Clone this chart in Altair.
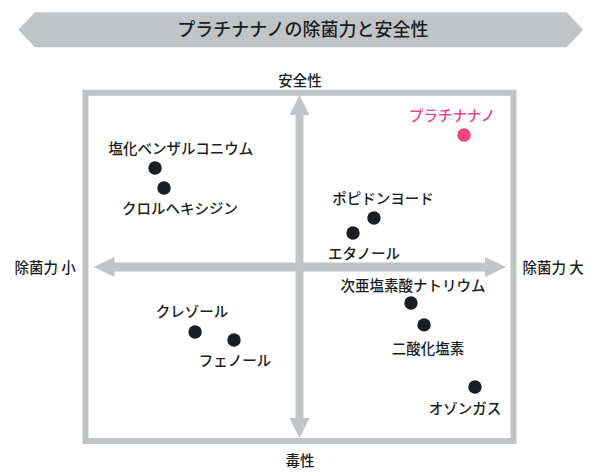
import altair as alt
import pandas as pd

# --- data (conceptual space: 除菌力 -10..10, 安全性 -10..10) ---
names = ["プラチナナノ", "塩化ベンザルコニウム", "クロルヘキシジン", "ポピドンヨード", "エタノール",
         "次亜塩素酸ナトリウム", "二酸化塩素", "クレゾール", "フェノール", "オゾンガス"]
efficacy = [7.69, -6.75, -6.33, 3.48, 2.50, 5.21, 5.82, -4.88, -3.06, 8.20]
safety = [7.58, 5.68, 4.53, 2.81, 1.95, -2.07, -3.33, -3.74, -4.20, -6.90]
label_x = [7.13, -5.54, -5.58, 3.90, 3.01, 5.30, 6.00, -5.02, -3.01, 7.73]
label_y = [8.72, 6.83, 3.38, 3.96, 0.80, -1.03, -4.65, -2.53, -5.34, -8.10]
highlight = [True, False, False, False, False, False, False, False, False, False]

title_text = "プラチナナノの除菌力と安全性"
axis_texts = ["安全性", "毒性", "除菌力 小", "除菌力 大"]

GRAY = "#c1c4c7"
DARK = "#1a1e23"
PINK = "#ea4580"
FONT = "Noto Sans CJK JP"

xs = alt.Scale(domain=[-13.621, 13.668], nice=False, zero=False)
ys = alt.Scale(domain=[-12.010, 14.871], nice=False, zero=False)

df = pd.DataFrame({
    "name": names, "x": efficacy, "y": safety, "lx": label_x, "ly": label_y,
    "color": [PINK if h else DARK for h in highlight],
})

def X(f="x"):
    return alt.X(f, type="quantitative", scale=xs, axis=None)

def Y(f="y"):
    return alt.Y(f, type="quantitative", scale=ys, axis=None)

# banner
banner_path = "M -282.5 0 L -265.8 -17.5 L 265.8 -17.5 L 282.5 0 L 265.8 17.5 L -265.8 17.5 Z"
banner = alt.Chart(pd.DataFrame({"x": [0.06], "y": [13.62]})).mark_point(
    shape=banner_path, size=4, filled=True, fill=GRAY, opacity=1, strokeWidth=0
).encode(x=X(), y=Y())
title = alt.Chart(pd.DataFrame({"x": [0.16], "y": [13.62], "t": [title_text]})).mark_text(
    font=FONT, fontSize=18, fontWeight=500, color=DARK, baseline="middle", align="center", dy=1.5
).encode(x=X(), y=Y(), text="t:N")

# box
box = alt.Chart(pd.DataFrame({"x": [-10], "x2": [10], "y": [-10], "y2": [10]})).mark_rect(
    fillOpacity=0, stroke=GRAY, strokeWidth=6
).encode(x=X(), x2="x2:Q", y=Y(), y2="y2:Q")

# arrow shafts
hshaft = alt.Chart(pd.DataFrame({"x": [-8.8], "x2": [8.8], "y": [0.0]})).mark_rule(
    color=GRAY, strokeWidth=9, strokeCap="butt"
).encode(x=X(), x2="x2:Q", y=Y())
vshaft = alt.Chart(pd.DataFrame({"x": [0.0], "y": [-8.8], "y2": [8.8]})).mark_rule(
    color=GRAY, strokeWidth=8, strokeCap="butt"
).encode(x=X(), y=Y(), y2="y2:Q")

heads = pd.DataFrame({
    "x": [-9.62, 9.65, 0.0, 0.0],
    "y": [0.0, 0.0, 9.87, -9.83],
    "shape": [
        "M 0 0 L 21 -10 L 21 10 Z",
        "M 0 0 L -21 -10 L -21 10 Z",
        "M 0 0 L 10 20 L -10 20 Z",
        "M 0 0 L 10 -20 L -10 -20 Z",
    ],
})
arrowheads = alt.Chart(heads).mark_point(size=4, filled=True, fill=GRAY, opacity=1, strokeWidth=0).encode(
    x=X(), y=Y(), shape=alt.Shape("shape:N", scale=None)
)

# axis labels
ax = pd.DataFrame({"x": [0.02, 0.02, -11.89, 11.85], "y": [10.73, -11.09, 0.0, 0.0], "t": axis_texts})
axis_labels = alt.Chart(ax).mark_text(
    font=FONT, fontSize=14.5, fontWeight=500, color=DARK, baseline="middle", align="center", dy=2
).encode(x=X(), y=Y(), text="t:N")

points = alt.Chart(df).mark_circle(size=180, opacity=1).encode(
    x=X(), y=Y(), color=alt.Color("color:N", scale=None)
)
labels = alt.Chart(df).mark_text(
    font=FONT, fontSize=14.5, fontWeight=500, baseline="middle", align="center", dy=2
).encode(x=X("lx"), y=Y("ly"), text="name:N", color=alt.Color("color:N", scale=None))

chart = alt.layer(banner, title, box, hshaft, vshaft, arrowheads, axis_labels, points, labels).properties(
    width=584, height=468, autosize=alt.AutoSizeParams(type="none"), padding=0
).configure_view(stroke=None)

chart.save("out.html", embed_options={"renderer": "svg", "actions": False})
